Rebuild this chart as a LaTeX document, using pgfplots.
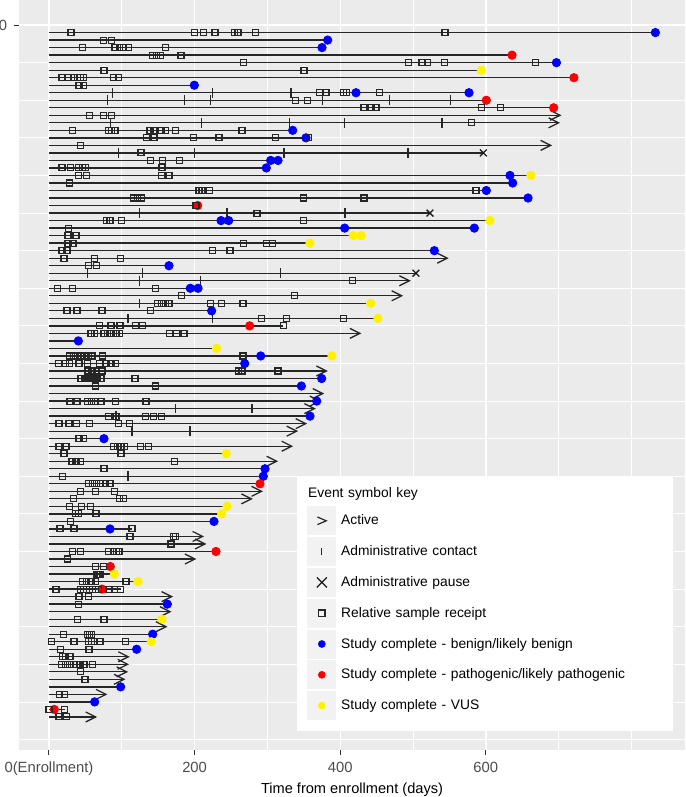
\documentclass[border=0pt]{standalone}
\usepackage{fontspec}
\setmainfont{Liberation Sans}
\usepackage{pgfplots}
\usepackage{pgfplotstable}
\pgfplotsset{compat=1.18}
\usetikzlibrary{calc}

% ">" shaped mark with its tip at the data point
\pgfdeclareplotmark{chev}{%
  \pgfpathmoveto{\pgfpoint{-2\pgfplotmarksize}{\pgfplotmarksize}}%
  \pgfpathlineto{\pgfpointorigin}%
  \pgfpathlineto{\pgfpoint{-2\pgfplotmarksize}{-\pgfplotmarksize}}%
  \pgfusepathqstroke}

\definecolor{panel}{HTML}{EBEBEB}
\definecolor{keybg}{HTML}{F2F2F2}

% end of follow-up (days), row
\pgfplotstableread{
e k
833 1
383 2
375 3
636 4
697 5
594 6
721 7
200 8
577 9
601 10
693 11
702 12
700 13
335 14
357 15
689 16
597 17
315 18
298.5 19
662 20
637 21
601 22
658 23
204 24
523 25
606 26
584 27
429 28
358.5 29
529 30
547 31
165 32
504 33
495 34
205 35
484 36
442 37
223 38
452 39
322 40
427 41
40 42
230 43
389 44
269 45
381 46
374.5 47
346.6 48
376 49
372 50
364.5 51
358.5 52
352.6 53
340 54
75.5 55
333 56
243.6 57
312.7 58
296.7 59
294.4 60
289.8 61
292 62
278 63
244.5 64
237 65
226.6 66
114 67
211 68
214 69
229.4 70
200.5 71
84 72
89.7 73
122.3 74
98.4 75
168.5 76
162.5 77
166 78
155 79
160.7 80
142.4 81
140.6 82
120.4 83
109 84
108 85
106.7 86
103 87
98.4 88
78.3 89
62.7 90
21.5 91
64 92
}\tblspans

% relative sample receipt
\pgfplotstableread{
x k
30.2 1
199.6 1
212.5 1
228 1
254.6 1
259.6 1
283.9 1
544 1
75.1 2
85.6 2
46.2 3
90.7 3
96.6 3
102.6 3
109 3
160.3 3
142.4 4
147.9 4
153.4 4
181.3 4
267.4 5
494 5
512.4 5
519.7 5
543 5
668.3 5
75.5 6
350.3 6
17.9 7
26 7
34.3 7
38.9 7
43.5 7
48 7
88.4 7
95.7 7
41.2 8
47.2 8
371.3 9
380.5 9
404.3 9
408.8 9
453.8 9
338.8 10
354.9 10
432.7 11
443.2 11
449.2 11
593.9 11
620 11
55.9 12
75.1 12
85.6 12
580.9 13
32.5 14
81.5 14
86.1 14
90.7 14
138.7 14
144.2 14
153.8 14
160.3 14
174 14
265.1 14
134.2 15
144.2 15
198.3 15
233.5 15
311.4 15
356.7 15
43.5 16
126.4 17
139.2 18
156.1 18
179.5 18
17.9 19
29.3 19
40.8 19
45.8 19
49.9 19
155.2 19
40.8 20
51.7 20
154.8 20
164.8 20
28.4 21
206 22
210.2 22
220.7 22
586.5 22
116.3 23
121.3 23
126.8 23
349.8 23
432.7 23
201.9 24
285.7 25
79.2 26
83.8 26
99.8 26
349.4 26
26.6 27
26.1 28
37.1 28
26.1 29
33 29
267.4 29
299 29
306.8 29
17.9 30
24.7 30
224.8 30
248.6 30
20.6 31
62.3 31
98.4 31
54.5 32
65.5 32
417.1 34
11.9 35
32.5 35
146.5 35
182.2 36
337.5 36
149.3 37
154.3 37
159.8 37
164.8 37
222.1 37
237.2 37
266.5 37
24.7 38
38.5 38
72.8 38
139.7 38
292.1 39
326.5 39
404.8 39
69.1 40
85.2 40
97.5 40
119 40
128.7 40
321.9 40
57.7 41
62.7 41
75.5 41
80.6 41
85.6 41
92 41
97 41
165.3 41
175.4 41
185.4 41
27.9 44
33.9 44
38.9 44
44 44
49 44
54 44
59 44
73.7 44
266.5 44
13.3 45
22.4 45
27.9 45
41.2 45
52.7 45
69.6 45
79.2 45
85.2 45
91.1 45
53.6 46
59 46
65 46
72.8 46
260.5 46
265.1 46
314.6 46
44 47
49.5 47
54.9 47
60.4 47
65.9 47
71.4 47
118.1 47
63.6 48
146.5 48
28.8 50
38.5 50
52.7 50
58.2 50
63.6 50
71.4 50
91.6 50
133.2 50
82 52
92 52
132.8 52
143.8 52
154.8 52
13.7 53
27.5 53
37.5 53
55.4 53
95.2 53
110.3 53
41.2 55
47.6 55
13.7 56
23.4 56
88.4 56
93.9 56
98.9 56
103.5 56
125.5 56
136.9 56
20.6 57
98.9 57
31.6 58
37.1 58
43 58
172.2 58
75.5 59
18.3 60
54.5 61
60 61
65.5 61
71 61
77.8 61
83.8 61
43.5 62
63.6 62
89.7 62
33.9 63
96.6 63
102.1 63
28.4 64
44.4 64
57.2 64
36.2 65
40.8 65
64.6 65
29.3 66
15.1 67
34.3 67
114 67
111.3 68
170.8 68
174 68
167.6 69
32 70
43.5 70
81.5 70
88.4 70
93 70
96.2 70
25.6 71
63.6 72
74.6 72
65 73
67.3 73
70 73
45.8 74
51.7 74
57.7 74
64.1 74
105.8 74
9.6 75
43 75
47.2 75
51.3 75
55.4 75
59.5 75
63.6 75
67.8 75
82.4 75
89.7 75
98.4 75
41.2 76
54.5 76
40.8 77
39.4 79
75.5 79
20.1 81
52.7 81
55.4 81
58.2 81
3.2 82
34.3 82
54.5 82
58.2 82
62.7 82
70 82
105.3 82
16 83
54.9 83
18.3 84
22.9 84
28.8 84
16.9 85
22.4 85
27.9 85
33.4 85
38 85
42.6 85
48.1 85
59.5 85
43.5 86
49.5 87
14.2 89
21.5 89
0 91
21.5 91
13.7 92
23.8 92
}\tblsamples

% administrative contact
\pgfplotstableread{
x k
87.5 9
224.4 9
332.4 9
80.6 10
185.9 10
221.6 10
375.5 10
467.5 10
551.7 10
84.7 13
209.7 13
330.6 13
405.5 13
539.8 13
95.2 17
199.6 17
322.8 17
493.1 17
124.5 25
244.5 25
406.6 25
53.1 33
128.7 33
317.8 33
124.5 34
207.9 34
124.5 37
108.5 39
224.4 39
173.5 51
278.8 51
92 52
114 54
193.7 54
108.5 60
}\tblcontacts

% administrative pause
\pgfplotstableread{
x k
596.6 17
523.3 25
504 33
}\tblpauses

% still active
\pgfplotstableread{
x k
702 12
700 13
689 16
547 31
495 34
484.4 36
427 41
381 46
376 49
372 50
364.5 51
352.6 53
340.2 54
333.3 56
312.7 58
292 62
278 63
211 68
214.3 69
200.5 71
168.5 76
166.2 78
160.7 80
109 84
108 85
106.7 86
103 87
78.3 89
64.1 92
}\tblactive

% study complete - benign/likely benign
\pgfplotstableread{
x k
832.9 1
382.8 2
375 3
697 5
199.6 8
421.7 9
576.9 9
334.7 14
353 15
304.5 18
314.6 18
298.5 19
633.2 20
636.9 21
600.7 22
658 23
236.3 26
246.8 26
406.1 27
584.2 27
529.3 30
164.8 32
194.1 35
204.7 35
223.4 38
40.3 42
290.8 44
268.8 45
374.5 47
346.6 48
367.7 50
358.5 52
75.5 55
296.7 59
294.4 60
226.6 66
83.8 67
162.5 77
142.4 81
120.4 83
98.4 88
62.7 90
}\tblbenign

% study complete - pathogenic/likely pathogenic
\pgfplotstableread{
x k
636 4
721 7
600.7 10
693.2 11
204.2 24
275.6 40
289.8 61
229.4 70
84.2 72
72.8 75
7.3 91
}\tblpatho

% study complete - VUS
\pgfplotstableread{
x k
593.9 6
662 20
605.8 26
418 28
429 28
358.5 29
441.8 37
451.9 39
230.3 43
388.7 44
243.6 57
244.5 64
237.2 65
89.7 73
122.3 74
155.2 79
140.6 82
}\tblvus

\begin{document}
\begin{tikzpicture}
\begin{axis}[
  scale only axis,
  width=333pt, height=374.75pt,
  xmin=-41.2, xmax=873.6,
  ymin=-3.33, ymax=96.33,
  y dir=reverse,
  axis background/.style={fill=panel},
  axis line style={draw=none},
  tick pos=left,
  tick align=outside,
  major tick length=2.5pt,
  minor tick length=0pt,
  tick style={black!80, line width=0.5pt},
  xtick={0,200,400,600},
  xticklabels={0(Enrollment),200,400,600},
  minor xtick={100,300,500,700,800},
  ytick={0},
  yticklabels={0},
  minor ytick={5,10,...,95},
  grid=both,
  major grid style={white, line width=0.7pt},
  minor grid style={white, line width=0.4pt},
  /pgf/number format/assume math mode=true,
  ticklabel style={font=\fontsize{7.4}{8.8}\selectfont, text=black!70},
  xticklabel style={inner sep=0pt, anchor=base, yshift=-8.9pt},
  yticklabel style={inner sep=0pt, anchor=east, xshift=-3.2pt},
  xlabel={Time from enrollment (days)},
  xlabel style={at={(axis description cs:0.5,0)}, anchor=base, inner sep=0pt,
    yshift=-22pt, font=\fontsize{7.3}{8.8}\selectfont},
  legend cell align=left,
  legend style={
    at={(axis cs:340.7,59.87)}, anchor=north west,
    fill=white, draw=none,
    inner xsep=5pt, inner ysep=5.5pt,
    /tikz/column sep=2.5pt, /tikz/row sep=1pt,
    nodes={inner sep=0pt, text height=5.5pt, text depth=1.5pt,
      text width=161pt, font=\fontsize{6.9}{8.2}\selectfont},
  },
]
% follow-up lines from enrollment
\addplot[forget plot, xcomb, black!85, line width=0.65pt] table[x=e, y=k] \tblspans;
% active arrows
\addplot[forget plot, only marks, mark=chev, mark size=2.5pt, black!85,
  mark options={line width=0.65pt}] table[x=x, y=k] \tblactive;
% administrative contact
\addplot[forget plot, only marks, mark=|, mark size=2.4pt, black!85,
  mark options={line width=0.55pt}] table[x=x, y=k] \tblcontacts;
% administrative pause
\addplot[forget plot, only marks, mark=x, mark size=2.4pt, black!90,
  mark options={line width=0.65pt}] table[x=x, y=k] \tblpauses;
% study complete
\addplot[forget plot, only marks, mark=*, mark size=2.1pt, color=blue] table[x=x, y=k] \tblbenign;
\addplot[forget plot, only marks, mark=*, mark size=2.1pt, color=red] table[x=x, y=k] \tblpatho;
\addplot[forget plot, only marks, mark=*, mark size=2.1pt, color=yellow] table[x=x, y=k] \tblvus;
% sample receipts
\addplot[forget plot, only marks, mark=square, mark size=1.5pt, black!85,
  mark options={line width=0.55pt}] table[x=x, y=k] \tblsamples;

% legend
\addlegendimage{empty legend}
\addlegendentry[text depth=3.35pt]{\hspace*{-16.5pt}Event symbol key}
\addlegendimage{legend image code/.code={
  \fill[keybg] (0pt,-7pt) rectangle (14pt,7pt);
  \draw[black!85, line width=0.6pt] (4.8pt,1.9pt) -- (9.2pt,0pt) -- (4.8pt,-1.9pt);}}
\addlegendentry{Active}
\addlegendimage{legend image code/.code={
  \fill[keybg] (0pt,-7pt) rectangle (14pt,7pt);
  \draw[black!85, line width=0.5pt] (7pt,-1.9pt) -- (7pt,1.9pt);}}
\addlegendentry{Administrative contact}
\addlegendimage{legend image code/.code={
  \fill[keybg] (0pt,-7pt) rectangle (14pt,7pt);
  \draw[black!90, line width=0.6pt] (4.5pt,-2.5pt) -- (9.5pt,2.5pt) (4.5pt,2.5pt) -- (9.5pt,-2.5pt);}}
\addlegendentry{Administrative pause}
\addlegendimage{legend image code/.code={
  \fill[keybg] (0pt,-7pt) rectangle (14pt,7pt);
  \draw[black!85, line width=0.55pt] (5.4pt,-1.6pt) rectangle (8.6pt,1.6pt);}}
\addlegendentry{Relative sample receipt}
\addlegendimage{legend image code/.code={
  \fill[keybg] (0pt,-7pt) rectangle (14pt,7pt);
  \fill[blue] (7pt,0pt) circle (1.7pt);}}
\addlegendentry{Study complete - benign/likely benign}
\addlegendimage{legend image code/.code={
  \fill[keybg] (0pt,-7pt) rectangle (14pt,7pt);
  \fill[red] (7pt,0pt) circle (1.7pt);}}
\addlegendentry{Study complete - pathogenic/likely pathogenic}
\addlegendimage{legend image code/.code={
  \fill[keybg] (0pt,-7pt) rectangle (14pt,7pt);
  \fill[yellow] (7pt,0pt) circle (1.7pt);}}
\addlegendentry{Study complete - VUS}
\end{axis}
\pgfresetboundingbox
\path[use as bounding box] ($(current axis.south west)+(-9.5pt,-23.75pt)$) rectangle (current axis.north east);
\end{tikzpicture}
\end{document}
